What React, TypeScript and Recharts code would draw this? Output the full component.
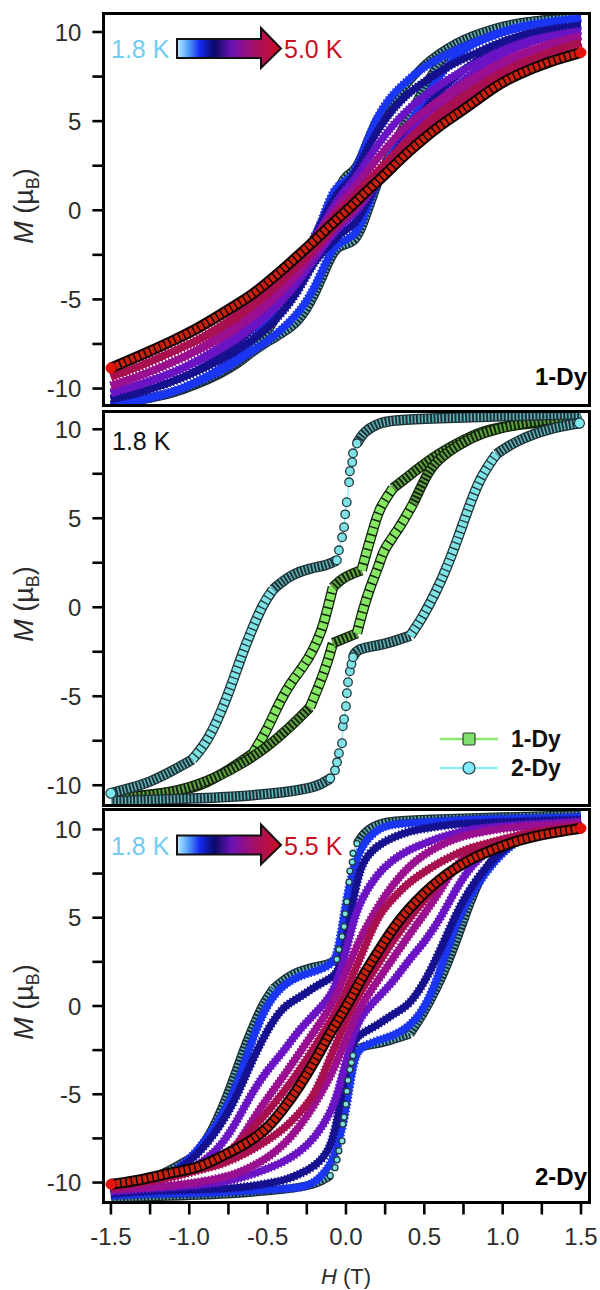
import { ComposedChart, Line, XAxis, YAxis } from "recharts";

// field grid shared by the temperature bands (T)
const fieldGrid = [-1.5, -1.3, -1.1, -0.95, -0.8, -0.7, -0.6, -0.5, -0.4, -0.3, -0.2, -0.1, -0.05, 0, 0.05, 0.1, 0.2, 0.3, 0.4, 0.5, 0.6, 0.7, 0.8, 0.95, 1.1, 1.3, 1.5];

// 1-Dy at 1.8 K
const dy1DownH = [-1.5, -1.36, -1.14, -0.93, -0.72, -0.593, -0.504, -0.44, -0.357, -0.274, -0.21, -0.153, -0.115, -0.083, -0.02, 0.1, 0.14, 0.185, 0.217, 0.3, 0.43, 0.555, 0.71, 0.87, 1.09, 1.3, 1.5];
const dy1DownM = [-10.73, -10.62, -10.45, -10.11, -8.99, -8.2, -6.91, -5.62, -4.27, -3.37, -2.42, -1.29, 0, 1.12, 1.69, 2.08, 3.37, 4.72, 5.62, 6.69, 7.58, 8.43, 9.21, 9.94, 10.28, 10.4, 10.8];
const dy1UpH = [-1.5, -1.25, -1.04, -0.82, -0.657, -0.504, -0.357, -0.23, -0.166, -0.12, -0.083, 0.07, 0.108, 0.153, 0.217, 0.236, 0.345, 0.43, 0.49, 0.555, 0.71, 0.87, 1.09, 1.3, 1.5];
const dy1UpM = [-10.75, -10.56, -10.28, -9.55, -8.76, -7.87, -6.74, -5.62, -4.27, -3.15, -2.02, -1.46, -0.17, 1.12, 2.47, 3.2, 4.49, 5.84, 6.97, 8.09, 9.1, 9.83, 10.28, 10.56, 10.79];

// 2-Dy at 1.8 K
const dy2DownH = [-1.5, -1.38, -1.25, -1.1, -0.98, -0.89, -0.82, -0.76, -0.72, -0.66, -0.61, -0.53, -0.465, -0.36, -0.23, -0.12, -0.058, -0.045, -0.025, -0.012, -0.005, 0.005, 0.02, 0.025, 0.04, 0.045, 0.07, 0.11, 0.2, 0.3, 0.5, 1, 1.5];
const dy2DownM = [-10.45, -10.17, -9.83, -9.16, -8.55, -7.6, -6.35, -5.06, -4.1, -2.58, -1.46, 0.2, 1, 1.8, 2.19, 2.36, 2.64, 3.2, 3.93, 4.5, 5.22, 5.9, 7.02, 7.64, 8.15, 8.65, 9.2, 9.83, 10.34, 10.5, 10.6, 10.73, 10.85];
const dy2UpH = [-1.5, -1.14, -0.72, -0.376, -0.185, -0.1, -0.07, -0.057, -0.045, -0.025, -0.02, -0.012, 0, 0.006, 0.013, 0.025, 0.035, 0.045, 0.07, 0.236, 0.41, 0.49, 0.58, 0.645, 0.71, 0.77, 0.855, 0.96, 1.09, 1.3, 1.49];
const dy2UpM = [-10.9, -10.79, -10.67, -10.39, -10.11, -9.61, -9.16, -8.71, -8.2, -7.64, -6.69, -6.29, -5.56, -4.83, -4.21, -3.6, -3.2, -2.81, -2.3, -2.13, -1.6, -0.56, 0.96, 2.25, 3.76, 5.28, 7.3, 8.6, 9.38, 10.06, 10.34];

// 1-Dy, 1.8 K rim as it sits in the top panel
const p1CyanDown = [-10.9, -10.65, -10.25, -9.75, -9.15, -8.6, -7.9, -6.9, -5.3, -3.9, -2.5, 0.05, 1.3, 2, 2.2, 3, 5.4, 6.2, 7.2, 8.2, 8.85, 9.4, 9.8, 10.25, 10.55, 10.75, 10.85];
const p1CyanUp = [-10.9, -10.65, -10.3, -9.8, -9.2, -8.7, -8, -7.4, -6.9, -6.3, -4.9, -2.7, -2.05, -1.95, -1.8, -1.2, 1.5, 3.7, 5.2, 7, 8.4, 9.2, 9.7, 10.2, 10.5, 10.75, 10.85];

// 1-Dy, higher temperatures up to 5.0 K
const p1BlueDown = [-10.95, -10.65, -10.2, -9.6, -8.9, -8.2, -7.35, -6.2, -4.75, -3.3, -1.7, 0.8, 1.4, 1.65, 2, 3.05, 5.35, 6.55, 7.35, 8.05, 8.55, 9, 9.35, 9.9, 10.3, 10.6, 10.75];
const p1BlueUp = [-10.95, -10.65, -10.2, -9.65, -9.05, -8.5, -7.9, -7.35, -6.6, -5.75, -4.4, -2.3, -1.9, -1.65, -1.4, -0.8, 1.7, 3.3, 4.75, 6.2, 7.6, 8.65, 9.3, 9.85, 10.25, 10.55, 10.75];
const p1NavyDown = [-10.6, -10.2, -9.6, -9, -8.2, -7.5, -6.7, -5.7, -4.5, -3.1, -1.5, 0.3, 1, 1.45, 1.9, 2.8, 4.5, 5.7, 6.6, 7.2, 7.8, 8.3, 8.7, 9.3, 9.8, 10.15, 10.35];
const p1NavyUp = [-10.6, -10.2, -9.6, -9.05, -8.4, -7.9, -7.3, -6.6, -5.7, -4.5, -2.8, -1.9, -1.45, -1.1, -0.8, -0.2, 1.6, 3, 4.4, 5.6, 6.7, 7.5, 8.2, 9.1, 9.75, 10.15, 10.35];
const p1VioletDown = [-10.25, -9.75, -9.1, -8.45, -7.65, -7, -6.2, -5.25, -4.2, -2.95, -1.6, -0.1, 0.6, 1.2, 1.65, 2.3, 3.65, 4.8, 5.7, 6.4, 7.05, 7.6, 8.1, 8.8, 9.35, 9.8, 10.05];
const p1VioletUp = [-10.25, -9.75, -9.1, -8.5, -7.8, -7.25, -6.6, -5.9, -5, -3.95, -2.7, -1.5, -1, -0.6, -0.2, 0.3, 1.6, 3, 4.2, 5.2, 6.15, 6.95, 7.65, 8.5, 9.2, 9.75, 10.05];
const p1MagentaDown = [-9.85, -9.25, -8.5, -7.85, -7.05, -6.4, -5.7, -4.85, -3.85, -2.8, -1.6, -0.4, 0.25, 0.75, 1.2, 1.75, 2.9, 3.95, 4.85, 5.55, 6.2, 6.8, 7.35, 8.1, 8.75, 9.35, 9.75];
const p1MagentaUp = [-9.85, -9.25, -8.5, -7.9, -7.2, -6.65, -6, -5.3, -4.45, -3.5, -2.4, -1.3, -0.8, -0.4, 0, 0.5, 1.6, 2.8, 3.85, 4.85, 5.65, 6.35, 7, 7.85, 8.6, 9.3, 9.75];
const p1CrimsonDown = [-9.35, -8.7, -7.9, -7.3, -6.5, -5.9, -5.2, -4.4, -3.55, -2.6, -1.6, -0.6, -0.1, 0.3, 0.75, 1.25, 2.2, 3.1, 3.95, 4.75, 5.5, 6.1, 6.7, 7.5, 8.2, 8.9, 9.4];
const p1CrimsonUp = [-9.35, -8.7, -7.9, -7.35, -6.6, -6.05, -5.4, -4.7, -3.9, -3.05, -2.1, -1.15, -0.65, -0.25, 0.2, 0.65, 1.7, 2.65, 3.6, 4.45, 5.25, 5.9, 6.5, 7.35, 8.1, 8.85, 9.4];
const p1Red = [-8.85, -8.1, -7.3, -6.65, -5.85, -5.3, -4.75, -4.05, -3.3, -2.5, -1.7, -0.85, -0.45, -0.05, 0.35, 0.8, 1.6, 2.45, 3.3, 4.05, 4.75, 5.35, 5.95, 6.95, 7.65, 8.35, 8.85];

// 2-Dy, higher temperatures up to 5.5 K
const p3BlueDown = [-10.6, -10.35, -9.45, -8.3, -6.4, -4.7, -1.9, 0.2, 1.2, 1.7, 1.95, 2.3, 2.85, 6, 7.9, 9.1, 10.05, 10.3, 10.35, 10.4, 10.45, 10.5, 10.55, 10.6, 10.62, 10.65, 10.7];
const p3BlueUp = [-10.75, -10.65, -10.62, -10.6, -10.55, -10.5, -10.45, -10.4, -10.35, -10.3, -10.05, -9.1, -7.9, -6, -2.85, -2.3, -1.95, -1.7, -1.2, -0.2, 1.9, 4.7, 6.4, 8.3, 9.45, 10.35, 10.6];
const p3NavyDown = [-10.6, -10.2, -9.5, -8.5, -6.8, -5.2, -3.1, -1.3, 0, 0.45, 1.1, 1.55, 1.9, 3.45, 6.3, 8.2, 9.1, 9.55, 9.9, 10.05, 10.2, 10.3, 10.35, 10.4, 10.45, 10.5, 10.55];
const p3NavyUp = [-10.65, -10.5, -10.45, -10.4, -10.35, -10.3, -10.2, -10.05, -9.9, -9.55, -9.1, -8.2, -6.3, -3.45, -1.9, -1.55, -1.1, -0.45, 0, 1.3, 3.1, 5.2, 6.8, 8.5, 9.5, 10.2, 10.5];
const p3VioletDown = [-10.45, -10.1, -9.65, -9.1, -8, -6.6, -4.9, -3.6, -2.6, -1.35, -0.45, 0.5, 1.5, 3.1, 4.9, 6.1, 7.5, 8.3, 8.85, 9.2, 9.55, 9.8, 10, 10.15, 10.25, 10.35, 10.45];
const p3VioletUp = [-10.5, -10.35, -10.25, -10.15, -10, -9.8, -9.55, -9.2, -8.85, -8.3, -7.5, -6.1, -4.9, -3.1, -1.5, -0.5, 0.45, 1.35, 2.6, 3.6, 4.9, 6.6, 8, 9.1, 9.65, 10.1, 10.4];
const p3MagentaDown = [-10.3, -9.95, -9.6, -9.35, -8.8, -8, -6.5, -5.2, -4, -2.7, -1.4, -0.1, 0.8, 1.9, 3, 4, 5.6, 6.9, 7.9, 8.6, 9.1, 9.5, 9.75, 10, 10.15, 10.25, 10.35];
const p3MagentaUp = [-10.4, -10.3, -10.15, -10, -9.75, -9.5, -9.1, -8.6, -7.9, -6.9, -5.6, -4, -3, -1.9, -0.8, 0.1, 1.4, 2.7, 4, 5.2, 6.5, 8, 8.75, 9.35, 9.6, 9.95, 10.3];
const p3CrimsonDown = [-10.2, -9.85, -9.45, -9.15, -8.6, -7.95, -7, -6, -4.9, -3.7, -2.3, -0.9, -0.1, 0.8, 1.9, 2.9, 5.1, 6.1, 7, 7.6, 8.15, 8.6, 9, 9.3, 9.7, 10, 10.2];
const p3CrimsonUp = [-10.3, -10, -9.7, -9.3, -9, -8.6, -8.15, -7.6, -7, -6.1, -5.1, -2.9, -1.9, -0.8, 0.1, 0.9, 2.3, 3.7, 4.9, 6, 7, 7.95, 8.6, 9.15, 9.45, 9.85, 10.15];
const p3Red = [-10.1, -9.85, -9.4, -9.2, -8.55, -8.1, -7.6, -6.92, -5.85, -4.6, -3.15, -1.5, -0.8, -0.05, 0.7, 1.6, 3, 4.4, 5.5, 6.4, 7.2, 7.8, 8.35, 8.9, 9.4, 9.8, 10.06];

const mTicks = [-10, -7.5, -5, -2.5, 0, 2.5, 5, 7.5, 10];
const hTicks = [-1.5, -1.25, -1, -0.75, -0.5, -0.25, 0, 0.25, 0.5, 0.75, 1, 1.25, 1.5];

const colors = { blue: "#1b36f2", navy: "#16118f", violet: "#6a14c4", magenta: "#9a1090", crimson: "#a81050", red: "#d8160f" };
const FONT = "Liberation Sans, Arial, sans-serif";

const rows = (hs: number[], ms: number[]) => hs.map((h, i) => ({ h, m: ms[i] }));

const lineBase = { dataKey: "m", type: "basis" as const, dot: false, activeDot: false, isAnimationActive: false, legendType: "none" as const };

const hatch = {
    green: { under: "#14240e", fill: "#86e862", width: 8, dash: "6 1.5" },
    greenDense: { under: "#14240e", fill: "#5fa342", width: 8, dash: "2 2" },
    teal: { under: "#1e3338", fill: "#7fe3e6", width: 8, dash: "4.5 1.3" },
    tealDense: { under: "#1e3338", fill: "#62b8bc", width: 8, dash: "1.5 2" },
    rim: { under: "#1c2e33", fill: "#62b8bc", width: 6, dash: "1.5 2" },
};

// stacked markers along a stretch of a curve
function ribbon(key: string, hs: number[], ms: number[], from: number, to: number, st: { under: string; fill: string; width: number; dash: string }) {
    const data = rows(hs, ms).slice(from, to + 1);
    return [
        <Line key={key + "u"} {...lineBase} data={data} stroke={st.under} strokeWidth={st.width + 2.5} />,
        <Line key={key + "f"} {...lineBase} data={data} stroke={st.fill} strokeWidth={st.width} strokeDasharray={st.dash} />,
    ];
}

// the fast part of the 2-Dy sweep, markers stand alone there
function steep(key: string, hs: number[], ms: number[], from: number, to: number, r = 4.3) {
    const data = rows(hs, ms).slice(from, to + 1);
    return (
        <Line key={key} {...lineBase} data={data} stroke="#8af0f4" strokeWidth={1.5}
            dot={{ r, fill: "#7fe3e6", stroke: "#21393e", strokeWidth: 1.3 }} />
    );
}

function dy1Curves() {
    return [
        ...ribbon("d1a", dy1DownH, dy1DownM, 0, 5, hatch.greenDense),
        ...ribbon("d1b", dy1DownH, dy1DownM, 5, 13, hatch.green),
        ...ribbon("d1c", dy1DownH, dy1DownM, 13, 15, hatch.greenDense),
        ...ribbon("d1d", dy1DownH, dy1DownM, 15, 19, hatch.green),
        ...ribbon("d1e", dy1DownH, dy1DownM, 19, 26, hatch.greenDense),
        ...ribbon("u1a", dy1UpH, dy1UpM, 0, 7, hatch.greenDense),
        ...ribbon("u1b", dy1UpH, dy1UpM, 7, 10, hatch.green),
        ...ribbon("u1c", dy1UpH, dy1UpM, 10, 11, hatch.greenDense),
        ...ribbon("u1d", dy1UpH, dy1UpM, 11, 17, hatch.green),
        ...ribbon("u1e", dy1UpH, dy1UpM, 17, 24, hatch.greenDense),
    ];
}

// rim=true: the version that stays behind the hotter bands
function dy2Curves(rim = false) {
    const open = rim ? hatch.rim : hatch.teal;
    const dense = rim ? hatch.rim : hatch.tealDense;
    const r = rim ? 3 : 4.3;
    return [
        ...ribbon("d2a", dy2DownH, dy2DownM, 0, 4, dense),
        ...ribbon("d2b", dy2DownH, dy2DownM, 4, 12, open),
        ...ribbon("d2c", dy2DownH, dy2DownM, 12, 16, dense),
        steep("d2d", dy2DownH, dy2DownM, 16, 26, r),
        ...ribbon("d2e", dy2DownH, dy2DownM, 26, 32, dense),
        ...ribbon("u2a", dy2UpH, dy2UpM, 0, 5, dense),
        steep("u2b", dy2UpH, dy2UpM, 5, 17, r),
        ...ribbon("u2c", dy2UpH, dy2UpM, 17, 20, dense),
        ...ribbon("u2d", dy2UpH, dy2UpM, 20, 27, open),
        ...ribbon("u2e", dy2UpH, dy2UpM, 27, 30, dense),
    ];
}

function band(key: string, ms: number[], color: string, width: number) {
    const data = rows(fieldGrid, ms);
    return [
        <Line key={key + "s"} {...lineBase} data={data} stroke={color} strokeWidth={width} />,
        <Line key={key + "t"} {...lineBase} data={data} stroke={color} strokeWidth={width + 2} strokeDasharray="1.5 2" />,
    ];
}

function redCurve(ms: number[]) {
    const data = rows(fieldGrid, ms);
    const ends = [data[0], data[data.length - 1]];
    return [
        <Line key="ru" {...lineBase} data={data} stroke="#100404" strokeWidth={11} />,
        <Line key="rf" {...lineBase} data={data} stroke="#c9200f" strokeWidth={7} strokeDasharray="4 1.4" />,
        <Line key="re" {...lineBase} data={ends} stroke="none" dot={{ r: 5, fill: "#e0140c", stroke: "#e0140c" }} />,
    ];
}

function endMarkers(key: string, points: { h: number; m: number }[]) {
    return <Line key={key} {...lineBase} data={points} stroke="none" dot={{ r: 5, fill: "#7fe8ee", stroke: "#21393e", strokeWidth: 1.2 }} />;
}

const FRAME_LEFT = 103.4;
const FRAME_RIGHT = 589;
const H_DOMAIN: [number, number] = [-1.548, 1.551];

function Panel({ top, bottom, mDomain, showH, children }: { top: number; bottom: number; mDomain: [number, number]; showH?: boolean; children: React.ReactNode }) {
    const plotH = bottom - top;
    const tickStyle = { fontSize: 24, fontFamily: FONT, fill: "#2c2c2c" };
    return (
        <>
            <div style={{ position: "absolute", left: 0, top }}>
                <ComposedChart width={600} height={plotH + (showH ? 62 : 0)} margin={{ top: 0, right: 600 - FRAME_RIGHT, bottom: 0, left: 0 }}>
                    <XAxis dataKey="h" type="number" domain={H_DOMAIN} allowDataOverflow ticks={hTicks} interval={0} hide={!showH}
                        height={62} axisLine={false} tickSize={12} tickMargin={13}
                        tickLine={{ stroke: "#000", strokeWidth: 2.6 }} tick={tickStyle}
                        tickFormatter={(v: number) => (Number.isInteger(v * 2) ? v.toFixed(1) : "")} />
                    <YAxis type="number" domain={mDomain} allowDataOverflow ticks={mTicks} interval={0} width={FRAME_LEFT}
                        axisLine={false} tickSize={11} tickMargin={11}
                        tickLine={{ stroke: "#000", strokeWidth: 2.6 }} tick={tickStyle}
                        tickFormatter={(v: number) => (Number.isInteger(v / 5) ? String(v) : "")} />
                    {children}
                </ComposedChart>
            </div>
            <div style={{ position: "absolute", left: FRAME_LEFT - 1.8, top: top - 1.8, width: FRAME_RIGHT - FRAME_LEFT + 3.6, height: plotH + 3.6, border: "3.6px solid #000", boxSizing: "border-box" }} />
        </>
    );
}

function MLabel({ y }: { y: number }) {
    return (
        <text transform={`translate(33 ${y}) rotate(-90)`} textAnchor="middle" fontFamily={FONT} fontSize={27} fill="#2c2c2c">
            <tspan fontStyle="italic">M</tspan>
            <tspan> (µ</tspan>
            <tspan fontSize={18} dy={6}>B</tspan>
            <tspan dy={-6}>)</tspan>
        </text>
    );
}

function TempArrow({ dy, id, hot }: { dy: number; id: string; hot: string }) {
    return (
        <g transform={`translate(0 ${dy})`}>
            <text x={111} y={58} fontFamily={FONT} fontSize={25} fill="#6fcdf5">1.8 K</text>
            <path d="M177 39 H261 V28 L281 48.5 L261 68 V58 H177 Z" fill={`url(#${id})`} stroke="#111" strokeWidth={2} />
            <text x={284} y={58} fontFamily={FONT} fontSize={25} fill="#c8101e">{hot}</text>
        </g>
    );
}

function Overlay() {
    return (
        <svg width={600} height={1290} style={{ position: "absolute", left: 0, top: 0, pointerEvents: "none" }}>
            <defs>
                {["grad1", "grad3"].map((id) => (
                    <linearGradient key={id} id={id} x1="0" x2="1" y1="0" y2="0">
                        <stop offset="0" stopColor="#bfeaff" />
                        <stop offset="0.1" stopColor="#58a8fa" />
                        <stop offset="0.22" stopColor="#1428f0" />
                        <stop offset="0.36" stopColor="#0a0a68" />
                        <stop offset="0.52" stopColor="#6a12b4" />
                        <stop offset="0.72" stopColor="#a01070" />
                        <stop offset="1" stopColor="#cc0e1c" />
                    </linearGradient>
                ))}
            </defs>
            <MLabel y={206} />
            <MLabel y={604} />
            <MLabel y={1002} />
            <TempArrow dy={0} id="grad1" hot="5.0 K" />
            <TempArrow dy={796.5} id="grad3" hot="5.5 K" />
            <text x={535} y={385} fontFamily={FONT} fontSize={24} fontWeight="bold">1-Dy</text>
            <text x={535} y={1185} fontFamily={FONT} fontSize={24} fontWeight="bold">2-Dy</text>
            <text x={112} y={450} fontFamily={FONT} fontSize={25} fill="#111">1.8 K</text>
            <text x={346} y={1284} textAnchor="middle" fontFamily={FONT} fontSize={22} fill="#2c2c2c">
                <tspan fontStyle="italic">H</tspan> (T)
            </text>
            {/* legend of the middle panel */}
            <line x1={440} x2={498} y1={739} y2={739} stroke="#8ae870" strokeWidth={2.5} />
            <rect x={463} y={733} width={12} height={12} rx={1.5} fill="#80e070" stroke="#2f3f2f" strokeWidth={1.2} />
            <line x1={440} x2={498} y1={768} y2={768} stroke="#8af0f8" strokeWidth={2.5} />
            <circle cx={469} cy={768} r={6} fill="#80e8f8" stroke="#2b3f46" strokeWidth={1.2} />
            <text x={511} y={747} fontFamily={FONT} fontSize={23} fontWeight="bold" fill="#111">1-Dy</text>
            <text x={511} y={776} fontFamily={FONT} fontSize={23} fontWeight="bold" fill="#111">2-Dy</text>
        </svg>
    );
}

export default function App() {
    return (
        <div style={{ position: "absolute", left: 0, top: 0, width: 600, height: 1290, background: "#fff" }}>
            <Panel top={13.7} bottom={405} mDomain={[-10.94, 11.01]}>
                {ribbon("p1cu", fieldGrid, p1CyanUp, 0, 26, hatch.rim)}
                {ribbon("p1cd", fieldGrid, p1CyanDown, 0, 26, hatch.rim)}
                {band("p1b1", p1BlueUp, colors.blue, 7)}
                {band("p1b2", p1BlueDown, colors.blue, 7)}
                {band("p1n1", p1NavyUp, colors.navy, 7)}
                {band("p1n2", p1NavyDown, colors.navy, 7)}
                {band("p1v1", p1VioletUp, colors.violet, 7)}
                {band("p1v2", p1VioletDown, colors.violet, 7)}
                {band("p1m1", p1MagentaUp, colors.magenta, 7)}
                {band("p1m2", p1MagentaDown, colors.magenta, 7)}
                {band("p1c1", p1CrimsonUp, colors.crimson, 7)}
                {band("p1c2", p1CrimsonDown, colors.crimson, 7)}
                {redCurve(p1Red)}
            </Panel>
            <Panel top={412} bottom={805} mDomain={[-11.11, 10.97]}>
                {dy1Curves()}
                {dy2Curves()}
                {endMarkers("e2", [rows(dy2DownH, dy2DownM)[0], rows(dy2UpH, dy2UpM)[dy2UpH.length - 1]])}
            </Panel>
            <Panel top={810} bottom={1202.5} mDomain={[-11.13, 11.1]} showH>
                {dy2Curves(true)}
                {band("p3b1", p3BlueUp, colors.blue, 7)}
                {band("p3b2", p3BlueDown, colors.blue, 7)}
                {band("p3n1", p3NavyUp, colors.navy, 7)}
                {band("p3n2", p3NavyDown, colors.navy, 7)}
                {band("p3v1", p3VioletUp, colors.violet, 7)}
                {band("p3v2", p3VioletDown, colors.violet, 7)}
                {band("p3m1", p3MagentaUp, colors.magenta, 7)}
                {band("p3m2", p3MagentaDown, colors.magenta, 7)}
                {band("p3c1", p3CrimsonUp, colors.crimson, 7)}
                {band("p3c2", p3CrimsonDown, colors.crimson, 7)}
                {redCurve(p3Red)}
            </Panel>
            <Overlay />
        </div>
    );
}
